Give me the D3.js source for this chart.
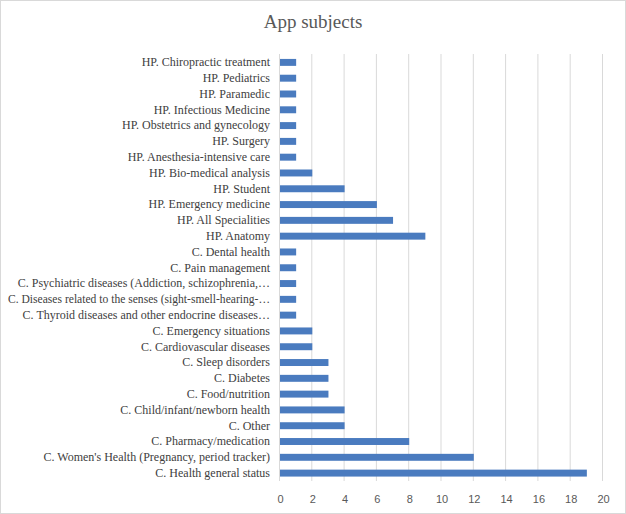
<!DOCTYPE html>
<html><head><meta charset="utf-8">
<script src="https://cdn.jsdelivr.net/npm/d3@7"></script>
<style>body{margin:0;background:#fff}</style>
</head><body><svg id="c" width="626" height="514"></svg>
<script>
const categories = [
"HP. Chiropractic treatment","HP. Pediatrics","HP. Paramedic","HP. Infectious Medicine",
"HP. Obstetrics and gynecology","HP. Surgery","HP. Anesthesia-intensive care","HP. Bio-medical analysis",
"HP. Student","HP. Emergency medicine","HP. All Specialities","HP. Anatomy",
"C. Dental health","C. Pain management","C. Psychiatric diseases (Addiction, schizophrenia,…",
"C. Diseases related to the senses (sight-smell-hearing-…","C. Thyroid diseases and other endocrine diseases…",
"C. Emergency situations","C. Cardiovascular diseases","C. Sleep disorders","C. Diabetes",
"C. Food/nutrition","C. Child/infant/newborn health","C. Other","C. Pharmacy/medication",
"C. Women's Health (Pregnancy, period tracker)","C. Health general status"];
const values = [1,1,1,1,1,1,1,2,4,6,7,9,1,1,1,1,1,2,2,3,3,3,4,4,8,12,19];
const xTicks = [0,2,4,6,8,10,12,14,16,18,20];
const title = "App subjects";

const svg = d3.select("#c");
svg.append("rect").attr("x",0.5).attr("y",0.5).attr("width",625).attr("height",513)
  .attr("fill","#fff").attr("stroke","#d9d9d9");
svg.append("text").attr("x",313).attr("y",28).attr("text-anchor","middle")
  .attr("font-family","Liberation Serif").attr("font-size",19).attr("fill","#595959").text(title);

const x = d3.scaleLinear().domain([0,20]).range([280,603]);
const y = d3.scaleBand().domain(categories).range([54.5,481]).paddingInner(0.56).paddingOuter(0.28);

const g = svg.append("g");
g.selectAll(".grid").data(xTicks).join("line")
  .attr("x1",d=>x(d)-0.5).attr("x2",d=>x(d)-0.5).attr("y1",54).attr("y2",481)
  .attr("stroke","#d9d9d9").attr("stroke-width",1);

g.selectAll(".bar").data(values).join("rect")
  .attr("x",x(0)).attr("y",(d,i)=>y(categories[i]))
  .attr("width",d=>x(d)-x(0)).attr("height",y.bandwidth())
  .attr("fill","#4a7bbf");

const ya = d3.axisLeft(y).tickSize(0).tickPadding(10);
const yg = svg.append("g").attr("transform","translate(280,0)").call(ya);
yg.select(".domain").remove();
yg.selectAll("text").attr("font-family","Liberation Serif").attr("font-size",12).attr("fill","#404040")
  .each(function(){
    const w = this.getComputedTextLength();
    if (w > 262) d3.select(this).attr("textLength",262).attr("lengthAdjust","spacingAndGlyphs");
  });

const xa = d3.axisBottom(x).tickValues(xTicks).tickSize(0).tickPadding(10);
const xg = svg.append("g").attr("transform","translate(0,485)").call(xa);
xg.select(".domain").remove();
xg.selectAll("text").attr("font-family","Liberation Sans").attr("font-size",11).attr("fill","#595959");
</script></body></html>
